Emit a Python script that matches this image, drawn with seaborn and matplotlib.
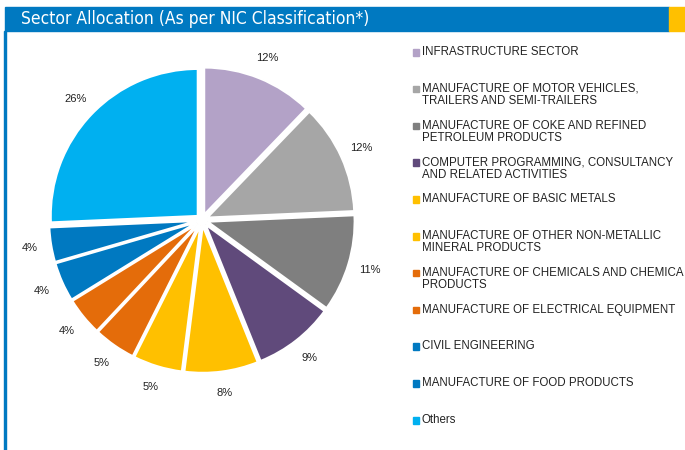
import matplotlib
matplotlib.use("Agg")
import matplotlib.pyplot as plt
from matplotlib.patches import Rectangle
import seaborn as sns

sns.set_theme(style="white")
plt.rcParams["font.family"] = ["Liberation Sans", "DejaVu Sans"]

# ── Data ──────────────────────────────────────────────────────────────────────
sectors = [
    "INFRASTRUCTURE SECTOR",
    "MANUFACTURE OF MOTOR VEHICLES,\nTRAILERS AND SEMI-TRAILERS",
    "MANUFACTURE OF COKE AND REFINED\nPETROLEUM PRODUCTS",
    "COMPUTER PROGRAMMING, CONSULTANCY\nAND RELATED ACTIVITIES",
    "MANUFACTURE OF BASIC METALS",
    "MANUFACTURE OF OTHER NON-METALLIC\nMINERAL PRODUCTS",
    "MANUFACTURE OF CHEMICALS AND CHEMICA\nPRODUCTS",
    "MANUFACTURE OF ELECTRICAL EQUIPMENT",
    "CIVIL ENGINEERING",
    "MANUFACTURE OF FOOD PRODUCTS",
    "Others",
]
# slice sizes (labels show rounded values)
shares = [12.2, 12.1, 10.7, 8.9, 8.1, 5.4, 4.6, 4.2, 4.3, 3.8, 25.7]
colours = ["#B3A2C7", "#A6A6A6", "#7F7F7F", "#604A7B", "#FFC000", "#FFC000",
           "#E46C0A", "#E46C0A", "#0079C1", "#0079C1", "#00B0F0"]

W, H = 685, 450
fig = plt.figure(figsize=(W / 100, H / 100), dpi=100)
fig.patch.set_facecolor("white")

# ── Header bar ───────────────────────────────────────────────────────────────
fig.patches.append(Rectangle((5 / W, 1 - 31 / H), 664 / W, 24 / H,
                             transform=fig.transFigure, color="#0079C1", zorder=0))
fig.patches.append(Rectangle((669 / W, 1 - 31 / H), 16 / W, 24 / H,
                             transform=fig.transFigure, color="#FFC000", zorder=0))
fig.patches.append(Rectangle((4 / W, 0), 2 / W, 1 - 31 / H,
                             transform=fig.transFigure, color="#0079C1", zorder=0))
fig.text(21 / W, 1 - 24.5 / H, "Sector Allocation (As per NIC Classification*)",
         color="white", fontsize=12.5, va="baseline", ha="left",
         family=["DejaVu Sans"], fontstretch="condensed")

# ── Pie ──────────────────────────────────────────────────────────────────────
scale = 147.0  # pixels per unit radius
lim = 1.3
cx, cy = 202, 220
size = 2 * lim * scale
ax = fig.add_axes([(cx - size / 2) / W, (H - cy - size / 2) / H, size / W, size / H])
ax.pie(shares, colors=colours, startangle=90, counterclock=False,
       explode=[0.04] * len(shares),
       autopct=lambda p: f"{p:.0f}%", pctdistance=1.15,
       wedgeprops=dict(edgecolor="white", linewidth=1.5),
       textprops=dict(fontsize=8, color="#222222"))
ax.set_xlim(-lim, lim)
ax.set_ylim(-lim, lim)
ax.set_aspect("equal")
ax.axis("off")

# ── Legend ───────────────────────────────────────────────────────────────────
first_y, step = 52, 36.8
for i, (name, col) in enumerate(zip(sectors, colours)):
    y = first_y + i * step
    fig.patches.append(Rectangle((413 / W, 1 - (y + 3.5) / H), 6.5 / W, 6.5 / H,
                                 transform=fig.transFigure, color=col))
    fig.text(422 / W, 1 - (y - 6) / H, name, fontsize=8.3, color="#222222",
             va="top", ha="left", linespacing=1.05)

fig.savefig("out.png", dpi=100)
